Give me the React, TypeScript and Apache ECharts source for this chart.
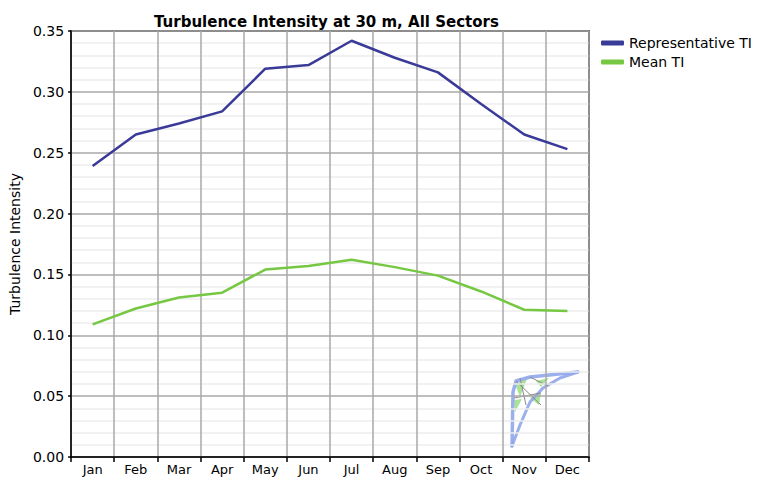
import React, { useEffect, useRef } from "react";
import * as echarts from "echarts";

const months = ["Jan", "Feb", "Mar", "Apr", "May", "Jun", "Jul", "Aug", "Sep", "Oct", "Nov", "Dec"];
const representativeTI = [0.239, 0.265, 0.274, 0.284, 0.319, 0.322, 0.342, 0.328, 0.316, 0.290, 0.265, 0.253];
const meanTI = [0.109, 0.122, 0.131, 0.135, 0.154, 0.157, 0.162, 0.156, 0.149, 0.136, 0.121, 0.120];
const yTicks = { min: 0, max: 0.35, interval: 0.05 };

const FONT = "DejaVu Sans";

export default function App() {
  const ref = useRef<HTMLDivElement>(null);
  useEffect(() => {
    if (!ref.current) return;
    const chart = echarts.init(ref.current, undefined, { renderer: "svg" });
    const blue = "#8fa6ea";
    const green = "#9fe08c";
    const grey = "#8a8a8a";
    chart.setOption({
      animation: false,
      backgroundColor: "#ffffff",
      title: {
        text: "Turbulence Intensity at 30 m, All Sectors",
        left: 149,
        top: 9,
        textStyle: { fontFamily: FONT, fontSize: 15, fontWeight: "bold", color: "#000" },
      },
      legend: {
        orient: "vertical",
        left: 596,
        top: 31,
        itemWidth: 23,
        itemHeight: 5,
        itemGap: 5,
        icon: "roundRect",
        textStyle: { fontFamily: FONT, fontSize: 14, color: "#000", padding: [0, 0, 0, 0] },
        data: ["Representative TI", "Mean TI"],
      },
      grid: {
        left: 69,
        right: 170,
        top: 31,
        bottom: 23,
        show: true,
        borderColor: "#000",
        borderWidth: 1.5,
        backgroundColor: "transparent",
      },
      xAxis: {
        type: "category",
        data: months,
        boundaryGap: true,
        axisLine: { show: true, lineStyle: { color: "#000", width: 1.5 } },
        axisTick: { show: true, length: 5, lineStyle: { color: "#000", width: 1.5 } },
        axisLabel: { fontFamily: FONT, fontSize: 13, color: "#000", margin: 6 },
        splitLine: { show: true, interval: 0, lineStyle: { color: "#a8a8a8", width: 1.5 } },
      },
      yAxis: {
        type: "value",
        min: yTicks.min,
        max: yTicks.max,
        interval: yTicks.interval,
        name: "Turbulence Intensity",
        nameLocation: "middle",
        nameGap: 47,
        nameTextStyle: { fontFamily: FONT, fontSize: 14, color: "#000" },
        axisLine: { show: true, lineStyle: { color: "#000", width: 1.5 } },
        axisTick: { show: true, length: 3, lineStyle: { color: "#000", width: 1.5 } },
        axisLabel: {
          fontFamily: FONT,
          fontSize: 14,
          color: "#000",
          margin: 7,
          formatter: (v: number) => v.toFixed(2),
        },
        splitLine: { show: true, lineStyle: { color: "#a8a8a8", width: 1.5 } },
        minorTick: { show: false, splitNumber: 5 },
        minorSplitLine: { show: true, lineStyle: { color: "#ededed", width: 1.5 } },
      },
      series: [
        {
          name: "Representative TI",
          type: "line",
          data: representativeTI,
          showSymbol: false,
          symbol: "none",
          lineStyle: { color: "#3a3a98", width: 2.5 },
          itemStyle: { color: "#3a3a98" },
          z: 3,
        },
        {
          name: "Mean TI",
          type: "line",
          data: meanTI,
          showSymbol: false,
          symbol: "none",
          lineStyle: { color: "#76c843", width: 2.5 },
          itemStyle: { color: "#76c843" },
          z: 3,
        },
      ],
      graphic: [
        {
          type: "group",
          z: 50,
          silent: true,
          children: [
            { type: "polygon", shape: { points: [[515, 384], [527, 379], [520, 397]] }, style: { fill: green, stroke: "none", opacity: 0.9 } },
            { type: "polygon", shape: { points: [[514, 400], [522, 399], [515, 412]] }, style: { fill: green, stroke: "none", opacity: 0.9 } },
            { type: "polygon", shape: { points: [[530, 398], [541, 392], [539, 405]] }, style: { fill: green, stroke: "none", opacity: 0.9 } },
            { type: "polygon", shape: { points: [[536, 381], [549, 378], [541, 387]] }, style: { fill: green, stroke: "none", opacity: 0.9 } },
            {
              type: "polyline",
              shape: { points: [[512, 446], [513, 392], [516, 381], [530, 377], [578, 372]] },
              style: { stroke: blue, lineWidth: 3.5, fill: "none", lineJoin: "round", lineCap: "round", opacity: 0.9 },
            },
            {
              type: "polyline",
              shape: { points: [[578, 372], [560, 378], [543, 388], [530, 402], [520, 425], [512, 446]] },
              style: { stroke: blue, lineWidth: 3, fill: "none", lineJoin: "round", lineCap: "round", opacity: 0.9 },
            },
            { type: "line", shape: { x1: 516, y1: 381, x2: 541, y2: 405 }, style: { stroke: grey, lineWidth: 1 } },
            { type: "line", shape: { x1: 520, y1: 378, x2: 526, y2: 405 }, style: { stroke: grey, lineWidth: 1 } },
            { type: "line", shape: { x1: 514, y1: 398, x2: 541, y2: 393 }, style: { stroke: grey, lineWidth: 1 } },
            { type: "line", shape: { x1: 530, y1: 377, x2: 548, y2: 386 }, style: { stroke: grey, lineWidth: 1 } },
          ],
        },
      ],
    });
    return () => chart.dispose();
  }, []);
  return (
    <div
      ref={ref}
      style={{ position: "fixed", left: 0, top: 0, width: 759, height: 480 }}
    />
  );
}
